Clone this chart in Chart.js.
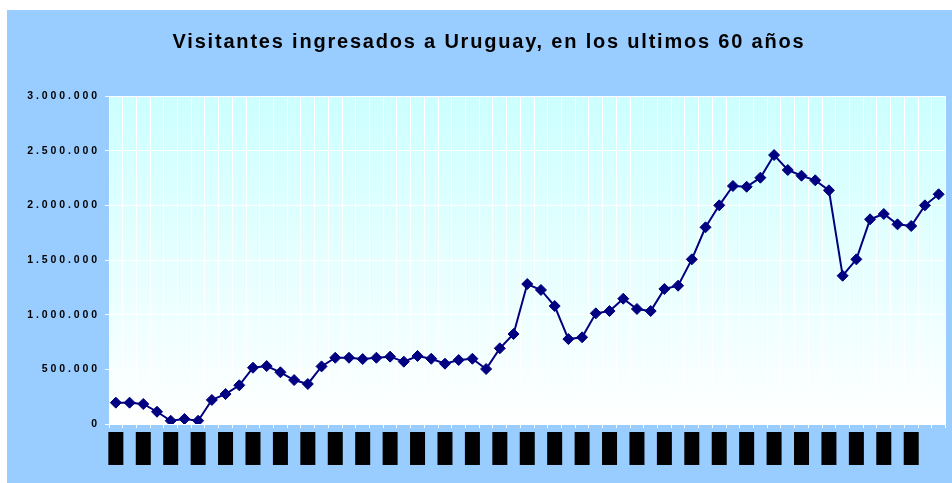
<!DOCTYPE html>
<html lang="es">
<head>
<meta charset="utf-8">
<title>Visitantes ingresados a Uruguay</title>
<script src="https://cdn.jsdelivr.net/npm/chart.js@4.4.1/dist/chart.umd.min.js"></script>
<style>
  html, body { margin: 0; padding: 0; background: #ffffff; }
  canvas { display: block; }
</style>
</head>
<body>
<canvas id="grafico" width="952" height="483"></canvas>
<script>
const anios = [
  "1949", "1950", "1951", "1952", "1953", "1954", "1955", "1956", "1957", "1958",
  "1959", "1960", "1961", "1962", "1963", "1964", "1965", "1966", "1967", "1968",
  "1969", "1970", "1971", "1972", "1973", "1974", "1975", "1976", "1977", "1978",
  "1979", "1980", "1981", "1982", "1983", "1984", "1985", "1986", "1987", "1988",
  "1989", "1990", "1991", "1992", "1993", "1994", "1995", "1996", "1997", "1998",
  "1999", "2000", "2001", "2002", "2003", "2004", "2005", "2006", "2007", "2008",
  "2009"
];

const visitantes = [
  195000, 195000, 183000, 112000, 30000, 46000, 30000, 220000, 274000, 354000,
  515000, 530000, 473000, 402000, 366000, 527000, 606000, 606000, 594000, 606000,
  616000, 570000, 622000, 597000, 552000, 585000, 597000, 503000, 692000, 823000,
  1280000, 1226000, 1079000, 777000, 793000, 1012000, 1033000, 1146000, 1052000, 1033000,
  1235000, 1265000, 1506000, 1799000, 2000000, 2177000, 2170000, 2253000, 2460000, 2323000,
  2271000, 2229000, 2137000, 1356000, 1506000, 1872000, 1921000, 1826000, 1811000, 2000000,
  2101000
];

const yMax = 3000000;
const yPaso = 500000;

const fuente = "'Liberation Sans', Arial, sans-serif";

function conPuntos(v) {
  return String(v).replace(/\B(?=(\d{3})+(?!\d))/g, ".");
}

// solo un año de cada dos lleva etiqueta (el ultimo queda sin ella)
function conEtiqueta(i) {
  return i % 2 === 0 && i < anios.length - 1;
}

// fondo celeste y degradado del area de trazado
const fondo = {
  id: "fondo",
  beforeDraw(chart) {
    const ctx = chart.ctx;
    const a = chart.chartArea;
    ctx.save();
    ctx.fillStyle = "#99CCFF";
    ctx.fillRect(7, 10, chart.width - 7, chart.height - 10);
    const g = ctx.createLinearGradient(0, a.top, 0, a.bottom);
    g.addColorStop(0, "#CCFFFF");
    g.addColorStop(1, "#FFFFFF");
    ctx.fillStyle = g;
    ctx.fillRect(a.left, a.top, a.right - a.left, a.bottom - a.top);
    ctx.restore();
  }
};

// letras espaciadas (eje vertical y titulo), como en el original
function espaciar(obj, metodo, valor) {
  const original = obj[metodo];
  obj[metodo] = function (...args) {
    const ctx = this.ctx;
    const antes = ctx.letterSpacing;
    ctx.letterSpacing = valor;
    original.apply(this, args);
    ctx.letterSpacing = antes || "0px";
  };
}

const espaciado = {
  id: "espaciado",
  beforeDraw(chart) {
    if (chart._espaciado) return;
    espaciar(chart.scales.y, "drawLabels", "2.9px");
    espaciar(chart.titleBlock, "draw", "1.8px");
    chart._espaciado = true;
  }
};

new Chart(document.getElementById("grafico").getContext("2d"), {
  type: "line",
  data: {
    labels: anios,
    datasets: [{
      label: "Visitantes",
      data: visitantes,
      borderColor: "#000080",
      backgroundColor: "#000080",
      borderWidth: 2,
      pointStyle: "rectRot",
      pointRadius: 5.5,
      pointBorderWidth: 1,
      tension: 0
    }]
  },
  options: {
    responsive: false,
    animation: false,
    layout: { padding: { left: 26, right: 0, top: 0, bottom: 0 } },
    plugins: {
      legend: { display: false },
      tooltip: { enabled: false },
      title: {
        display: true,
        text: "Visitantes ingresados a Uruguay, en los ultimos 60 años",
        color: "#000000",
        font: { family: fuente, size: 20, weight: "bold" },
        padding: { top: 30, bottom: 42 }
      }
    },
    scales: {
      x: {
        offset: true,
        grid: { color: "#FFFFFF", lineWidth: 1, offset: true, tickLength: 4 },
        border: { color: "#FFFFFF" },
        ticks: {
          autoSkip: false,
          minRotation: 90,
          maxRotation: 90,
          padding: 8,
          labelOffset: -6.6,
          color: "#000000",
          font: { family: fuente, size: 11, weight: "bold" },
          callback: (v, i) => (conEtiqueta(i) ? anios[i] : ""),
          showLabelBackdrop: (c) => conEtiqueta(c.index),
          backdropColor: "#000000",
          backdropPadding: { top: 0.9, bottom: 0.9, left: 4.5, right: 4 }
        },
        afterFit: (s) => {
          s.height = 59;
          s.paddingLeft = 0;
          s.paddingRight = 0;
        }
      },
      y: {
        min: 0,
        max: yMax,
        grid: { color: "#FFFFFF", lineWidth: 1, tickLength: 4 },
        border: { color: "#FFFFFF" },
        ticks: {
          stepSize: yPaso,
          padding: 5,
          color: "#000000",
          font: { family: fuente, size: 10.5, weight: "bold" },
          callback: (v) => conPuntos(v)
        },
        afterFit: (s) => { s.width = 83; }
      }
    }
  },
  plugins: [fondo, espaciado]
});
</script>
</body>
</html>
